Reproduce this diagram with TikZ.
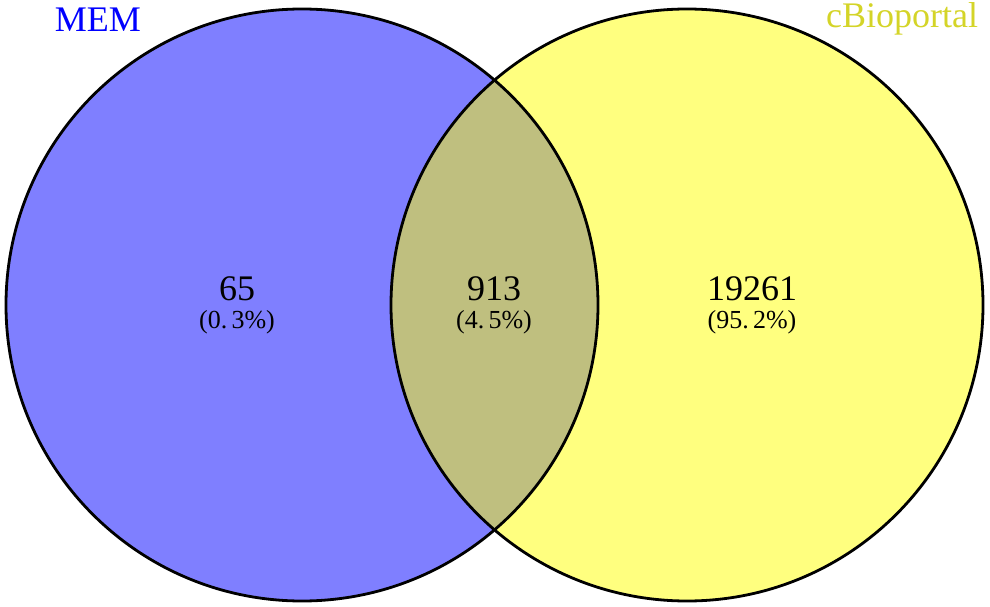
\documentclass[tikz,border=0pt]{standalone}
\usepackage{fontspec}
\setmainfont{Liberation Serif}
\definecolor{memblue}{RGB}{0,0,255}
\definecolor{cbioyellow}{RGB}{255,255,0}
\definecolor{cbiotext}{RGB}{212,212,40}
\tikzset{
	setfill/.style={fill opacity=0.5},
	count/.style={anchor=base, font=\fontsize{36}{36}\selectfont},
	share/.style={anchor=base, font=\fontsize{26}{26}\selectfont},
	setname/.style={anchor=base, font=\fontsize{36}{36}\selectfont}
}

\begin{document}
\begin{tikzpicture}[x=1pt,y=1pt]
	\useasboundingbox (0,0) rectangle (990,606);
	% the two sets
	\fill [memblue, setfill] (302,301) circle (296);
	\fill [cbioyellow, setfill] (687,301) circle (296);
	\draw [line width=2.8pt] (302,301) circle (296);
	\draw [line width=2.8pt] (687,301) circle (296);
	% set names
	\path (98,574) node [setname, text=memblue] (mem) {MEM};
	\path (902,578) node [setname, text=cbiotext] (cbio) {cBioportal};
	% counts
	\path (237,306) node [count] (onlymem) {65};
	\path (237,278) node [share] (onlymempc) {(0.\,3\%)};
	\path (494,306) node [count] (both) {913};
	\path (494,278) node [share] (bothpc) {(4.\,5\%)};
	\path (752,306) node [count] (onlycbio) {19261};
	\path (752,278) node [share] (onlycbiopc) {(95.\,2\%)};
\end{tikzpicture}
\end{document}
